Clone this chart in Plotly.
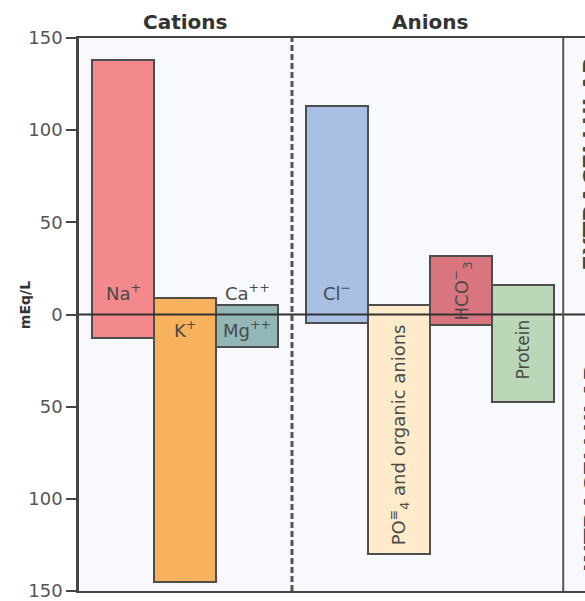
import plotly.graph_objects as go

# ---- data (mEq/L) ----
ions = ["Na+", "K+", "Ca++/Mg++", "Cl-", "PO4 and organic anions", "HCO3-", "Protein"]
groups = ["Cations", "Cations", "Cations", "Anions", "Anions", "Anions", "Anions"]
extracellular = [138, 9, 5, 113, 5, 31.5, 16]
intracellular = [13, 145, 17.5, 4.5, 130, 5.7, 47.5]
y_tick_vals = [-150, -100, -50, 0, 50, 100, 150]
y_tick_text = ["150", "100", "50", "0", "50", "100", "150"]

colors = ["#F3888D", "#F8B15D", "#92B7B6", "#A9BFE4", "#FDEBC9", "#D9757F", "#BBD7B8"]
FONT = "DejaVu Sans"
TXT = "#4a4a4a"

# layout positions (bar slot index units)
cat_start, an_start = 0.215, 3.66
centers = []
ci = ai = 0
for g in groups:
    if g == "Cations":
        centers.append(cat_start + ci + 0.5); ci += 1
    else:
        centers.append(an_start + ai + 0.5); ai += 1

fig = go.Figure()
fig.add_trace(go.Bar(
    x=centers,
    y=[e + i for e, i in zip(extracellular, intracellular)],
    base=[-i for i in intracellular],
    width=1,
    marker=dict(color=colors, line=dict(color="#4d4d4d", width=2)),
    hoverinfo="skip",
))

shapes = [
    dict(type="line", xref="paper", yref="y", x0=0, x1=1, y0=0, y1=0,
         line=dict(color="#333333", width=2), layer="above"),
    dict(type="line", xref="x", yref="y", x0=3.435, x1=3.435, y0=-150, y1=150,
         line=dict(color="#555555", width=3, dash="6px,3px"), layer="above"),
    dict(type="line", xref="x", yref="y", x0=7.81, x1=7.81, y0=-150, y1=150,
         line=dict(color="#555555", width=2), layer="above"),
]

ann = []
def lab(x, y, text, angle=0, size=18):
    ann.append(dict(x=x, y=y, xref="x", yref="y", text=text, showarrow=False,
                    xanchor="center", yanchor="middle",
                    textangle=angle, font=dict(family=FONT, size=size, color=TXT)))

lab(centers[0], 12, "Na<sup>+</sup>")
lab(centers[1], -8, "K<sup>+</sup>")
lab(centers[2], 12, "Ca<sup>++</sup>")
lab(centers[2], -8, "Mg<sup>++</sup>")
lab(centers[3], 12, "Cl<sup>−</sup>")
lab(centers[4], -65, "PO<sup>≡</sup><sub>4</sub> and organic anions", angle=-90, size=18)
lab(centers[5], 13, "HCO<sup>−</sup><sub>3</sub>", angle=-90, size=18)
lab(centers[6], -19, "Protein", angle=-90, size=17)

# group titles
cat_c = [c for c, g in zip(centers, groups) if g == "Cations"]
an_c = [c for c, g in zip(centers, groups) if g == "Anions"]
for name, cs in (("Cations", cat_c), ("Anions", an_c)):
    ann.append(dict(x=sum(cs) / len(cs), y=1.029, xref="x", yref="paper", text="<b>%s</b>" % name,
                    xanchor="center", yanchor="middle",
                    showarrow=False, font=dict(family=FONT, size=20, color="#333333")))

ann.append(dict(x=-0.107, y=5, xref="paper", yref="y", text="<b>mEq/L</b>", textangle=-90,
                xanchor="center", yanchor="middle",
                showarrow=False, font=dict(family=FONT, size=14, color="#333333")))
ann.append(dict(x=0.985, y=82, xref="paper", yref="y", xanchor="left", yanchor="middle",
                text="<b>EXTRACELLULAR</b>",
                textangle=-90, showarrow=False, font=dict(family=FONT, size=23, color="#444444")))
ann.append(dict(x=0.985, y=-83, xref="paper", yref="y", xanchor="left", yanchor="middle",
                text="<b>INTRACELLULAR</b>",
                textangle=-90, showarrow=False, font=dict(family=FONT, size=23, color="#444444")))

fig.update_layout(
    width=585, height=601,
    margin=dict(l=79, r=0, t=38, b=8),
    paper_bgcolor="white", plot_bgcolor="#F8F9FD",
    showlegend=False,
    bargap=0,
    shapes=shapes,
    annotations=ann,
    xaxis=dict(range=[0, 506 / 62], showgrid=False, zeroline=False, showticklabels=False,
               showline=True, mirror=True, linecolor="#444444", linewidth=2, ticks=""),
    yaxis=dict(range=[-150, 150], showgrid=False, zeroline=False,
               tickvals=y_tick_vals, ticktext=y_tick_text, ticks="outside", ticklen=10,
               tickwidth=2, tickcolor="#444444", ticklabeloverflow="allow",
               tickfont=dict(family=FONT, size=18, color="#555555"),
               showline=True, linecolor="#444444", linewidth=2.5),
)

# remove the page's default 8px body margin so the figure fills the window exactly
fig.write_html("out.html", config={"displayModeBar": False},
               post_script="document.body.style.margin='0';document.body.style.overflow='hidden';")
